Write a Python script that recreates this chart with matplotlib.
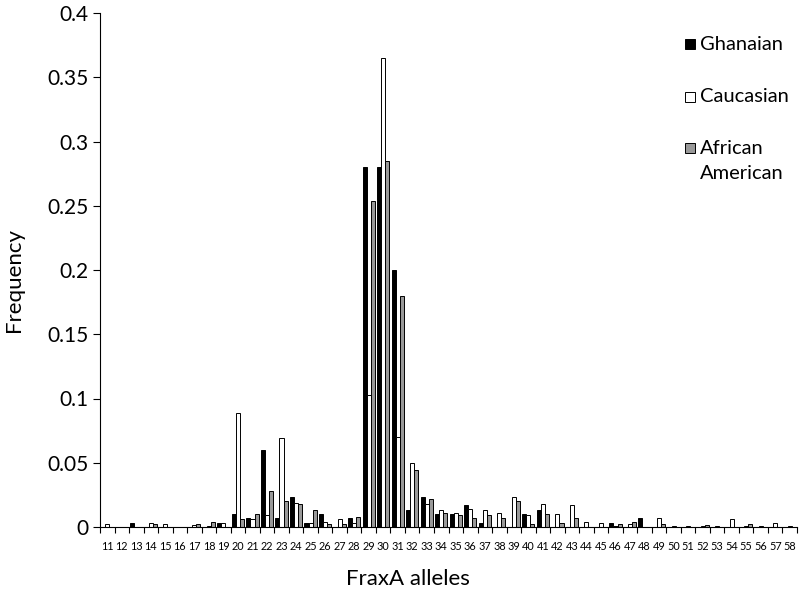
import matplotlib
matplotlib.use("Agg")
import matplotlib.pyplot as plt
from matplotlib.patches import Rectangle
import numpy as np

plt.rcParams['font.family'] = ['Lato', 'DejaVu Sans']

alleles = [str(a) for a in range(11, 59)]

ghanaian = [0, 0, 0.003, 0, 0, 0, 0, 0, 0.003, 0.010,
            0.007, 0.060, 0.007, 0.023, 0.003, 0.010, 0, 0.007, 0.280, 0.280,
            0.200, 0.013, 0.023, 0.010, 0.010, 0.017, 0.003, 0, 0, 0.010,
            0.013, 0, 0, 0, 0, 0.003, 0, 0.007, 0, 0,
            0, 0, 0, 0, 0, 0, 0, 0]
caucasian = [0.002, 0, 0, 0.003, 0.002, 0, 0.0015, 0.001, 0.003, 0.089,
             0.006, 0.009, 0.069, 0.019, 0.003, 0.004, 0.006, 0.003, 0.103, 0.365,
             0.070, 0.050, 0.018, 0.013, 0.011, 0.014, 0.013, 0.011, 0.023, 0.009,
             0.018, 0.010, 0.017, 0.004, 0.003, 0.001, 0.002, 0, 0.007, 0.001,
             0.001, 0.001, 0.001, 0.006, 0.001, 0.001, 0.003, 0.001]
african_american = [0, 0, 0, 0.002, 0, 0, 0.002, 0.004, 0, 0.006,
                    0.010, 0.028, 0.020, 0.018, 0.013, 0.002, 0.002, 0.008, 0.254, 0.285,
                    0.180, 0.044, 0.022, 0.011, 0.009, 0.007, 0.009, 0.007, 0.020, 0.002,
                    0.010, 0.003, 0.007, 0, 0, 0.002, 0.004, 0, 0.002, 0,
                    0, 0.0015, 0, 0, 0.002, 0, 0, 0]

series_names = ["Ghanaian", "Caucasian", "African\nAmerican"]
series_values = [ghanaian, caucasian, african_american]
series_colors = ["#000000", "#ffffff", "#999999"]

yticks = [0, 0.05, 0.1, 0.15, 0.2, 0.25, 0.3, 0.35, 0.4]
ytick_labels = ["0", "0.05", "0.1", "0.15", "0.2", "0.25", "0.3", "0.35", "0.4"]

W, H = 800, 595
fig = plt.figure(figsize=(W / 100, H / 100), dpi=100)
ax = fig.add_axes([100 / W, 1 - 527 / H, 697 / W, 514 / H])

x = np.arange(len(alleles))
w = 0.28
for i, (name, vals, col) in enumerate(zip(series_names, series_values, series_colors)):
    ax.bar(x + (i - 1) * w, vals, width=w, color=col, edgecolor="black",
           linewidth=0.7, label=name)

ax.set_xlim(-0.5, len(alleles) - 0.5)
ax.set_ylim(0, 0.4)
ax.set_yticks(yticks)
ax.set_yticklabels(ytick_labels, fontsize=15)
ax.set_xticks(x)
ax.set_xticklabels(alleles, fontsize=7.8)
ax.set_xticks(np.arange(-0.5, len(alleles), 1), minor=True)
ax.tick_params(axis='x', which='major', length=0, pad=10)
ax.tick_params(axis='x', which='minor', length=4, direction='out', width=0.8)
ax.tick_params(axis='y', length=5, direction='out', width=0.8, pad=3)

for s in ['top', 'right']:
    ax.spines[s].set_visible(False)
for s in ['left', 'bottom']:
    ax.spines[s].set_linewidth(0.8)

fig.text(14 / W, 1 - 280 / H, "Frequency", rotation=90, fontsize=16,
         ha='center', va='center')
fig.text(408 / W, 1 - 579 / H, "FraxA alleles", fontsize=16,
         ha='center', va='center')

# legend
leg_y = [44, 97, 148]
for name, col, yy in zip(series_names, series_colors, leg_y):
    fig.patches.append(Rectangle(((685) / W, 1 - (yy + 5) / H), 10 / W, 10 / H,
                                 transform=fig.transFigure, facecolor=col,
                                 edgecolor='black', linewidth=0.7))
    for k, line in enumerate(name.split("\n")):
        fig.text(700 / W, 1 - (yy + 25 * k) / H, line, fontsize=14.5,
                 ha='left', va='center')

fig.savefig("out.png", dpi=100)
